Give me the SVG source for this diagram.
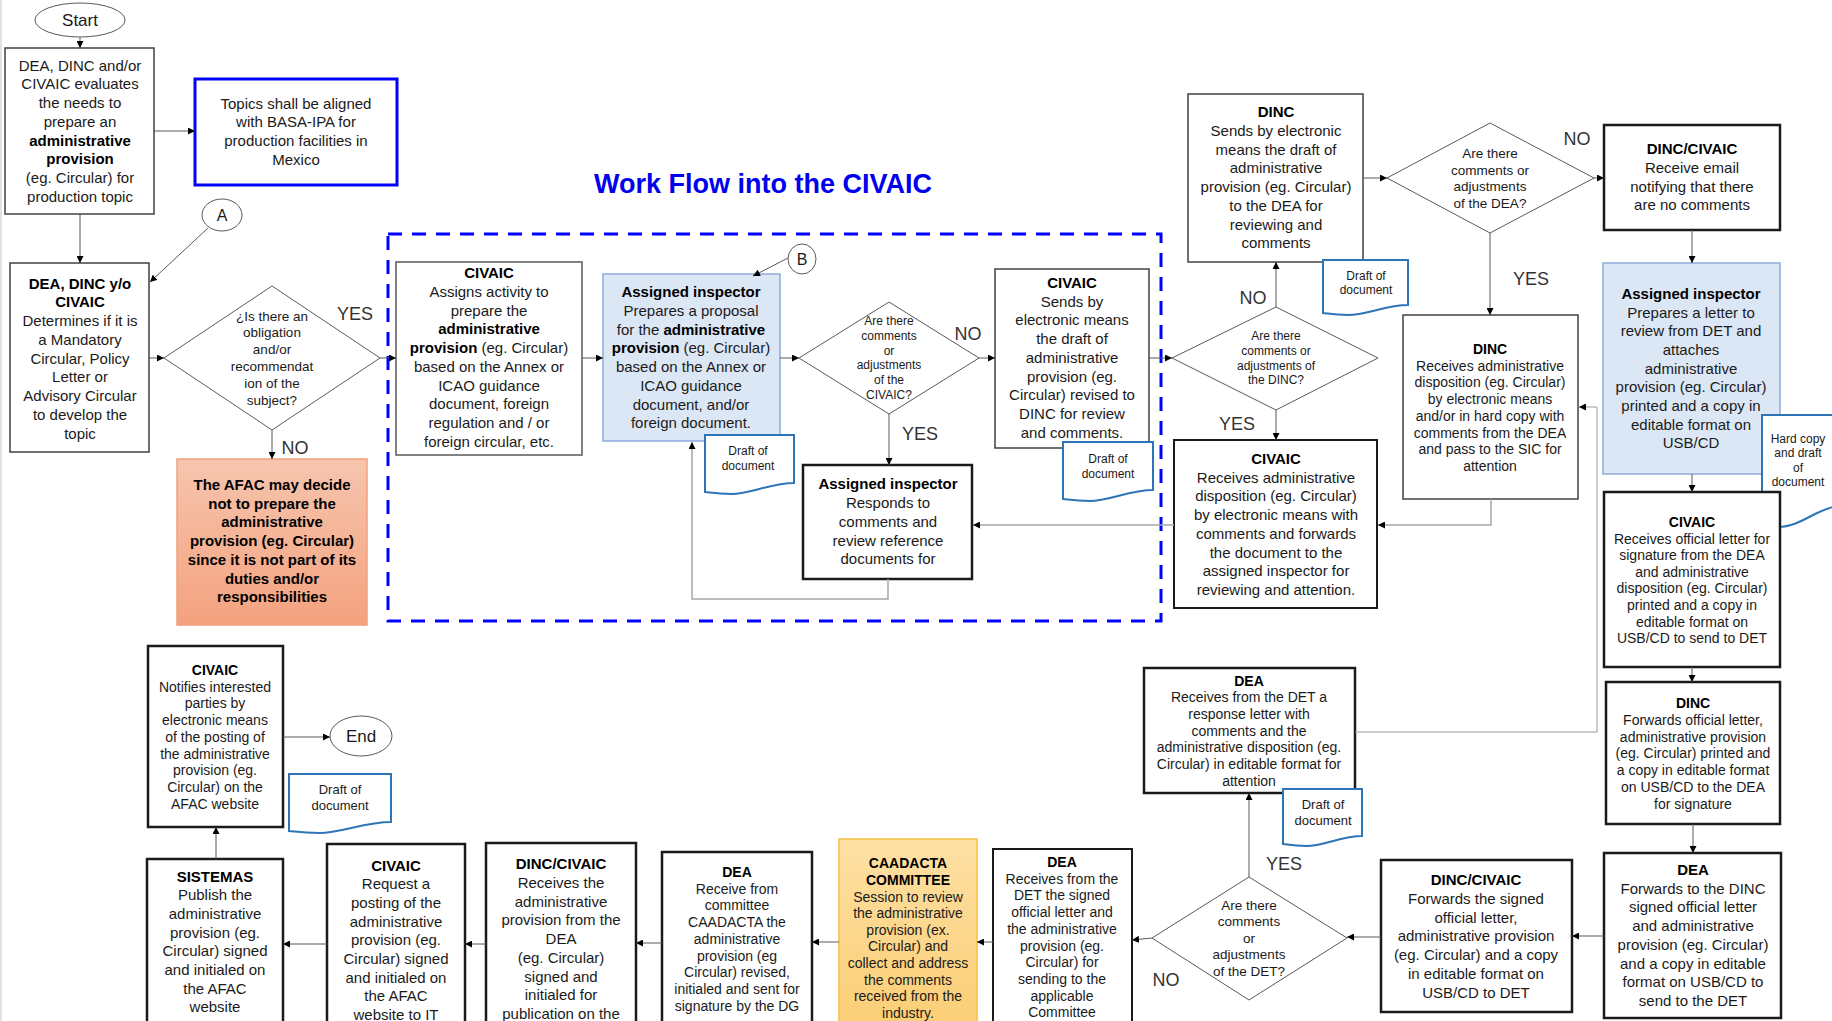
<svg xmlns="http://www.w3.org/2000/svg" width="1832" height="1021" viewBox="0 0 1832 1021">
<style>
text{font-family:"Liberation Sans",Arial,sans-serif;text-anchor:middle;fill:#1a1a1a}
.f15 text{font-size:15px}
.f14 text{font-size:14px}
.f135 text{font-size:13.5px}
.f12 text{font-size:12px}
.f13 text{font-size:13px}
.b{font-weight:bold;fill:#000}
.box{fill:#fff;stroke:#404040;stroke-width:1.5}
.boxk{fill:#fff;stroke:#1a1a1a;stroke-width:2.5}
.blue{fill:#dce7f5;stroke:#8eaadb;stroke-width:1.5}
.doc{fill:#fff;stroke:#2e75b6;stroke-width:2}
.dia{fill:#fff;stroke:#595959;stroke-width:1}
.ell{fill:#fff;stroke:#595959;stroke-width:1}
.c{fill:none;stroke:#595959;stroke-width:1;marker-end:url(#ah)}
.cg{fill:none;stroke:#a6a6a6;stroke-width:1.5;marker-end:url(#ah)}
.lbl{font-size:18px;fill:#333}
</style>
<defs>
<marker id="ah" viewBox="0 0 8 8" refX="8" refY="4" markerWidth="7" markerHeight="7" orient="auto" markerUnits="userSpaceOnUse"><path d="M0,0 L8,4 L0,8 z" fill="#000"/></marker>
<linearGradient id="gAfac" x1="0" y1="0" x2="0" y2="1"><stop offset="0" stop-color="#f6c5ae"/><stop offset="1" stop-color="#f4a27f"/></linearGradient>
<linearGradient id="gCaad" x1="0" y1="0" x2="0" y2="1"><stop offset="0" stop-color="#fde0a4"/><stop offset="1" stop-color="#fbcd72"/></linearGradient>
</defs>
<rect width="1832" height="1021" fill="#fff"/>
<line x1="1" y1="0" x2="1" y2="1021" stroke="#e3e3e3" stroke-width="2"/>

<text x="763" y="193" style="font-size:27px;font-weight:bold;fill:#0000ee">Work Flow into the CIVAIC</text>
<rect x="388" y="234" width="773" height="387" fill="none" stroke="#0000ff" stroke-width="3" stroke-dasharray="14 10"/>

<g id="n_start"><ellipse class="ell" cx="80" cy="20" rx="45" ry="17"/><text x="80" y="26" style="font-size:17px">Start</text></g>

<g id="n_eval" class="f15"><rect class="box" x="5" y="48" width="149" height="166"/>
<text x="80" y="70.7">DEA, DINC and/or</text>
<text x="80" y="89.4">CIVAIC evaluates</text>
<text x="80" y="108.1">the needs to</text>
<text x="80" y="126.8">prepare an</text>
<text x="80" y="145.5" class="b">administrative</text>
<text x="80" y="164.2" class="b">provision</text>
<text x="80" y="182.9">(eg. Circular) for</text>
<text x="80" y="201.6">production topic</text>
</g>

<g id="n_topics" class="f15"><rect x="195" y="79" width="202" height="106" fill="#fff" stroke="#0000ff" stroke-width="3"/>
<text x="296" y="108.5">Topics shall be aligned</text>
<text x="296" y="127.2">with BASA-IPA for</text>
<text x="296" y="145.9">production facilities in</text>
<text x="296" y="164.6">Mexico</text>
</g>

<g id="n_A"><ellipse class="ell" cx="222" cy="215" rx="20" ry="16"/><text x="222" y="221" style="font-size:16px">A</text></g>

<g id="n_determine" class="f15"><rect class="box" x="10" y="263" width="139" height="189"/>
<text x="80" y="288.5" class="b">DEA, DINC y/o</text>
<text x="80" y="307.3" class="b">CIVAIC</text>
<text x="80" y="326">Determines if it is</text>
<text x="80" y="344.8">a Mandatory</text>
<text x="80" y="363.5">Circular, Policy</text>
<text x="80" y="382.3">Letter or</text>
<text x="80" y="401">Advisory Circular</text>
<text x="80" y="419.8">to develop the</text>
<text x="80" y="438.5">topic</text>
</g>

<g id="n_d1" class="f135"><polygon class="dia" points="272,286 380,358 272,430 164,358"/>
<text x="272" y="320.5">¿Is there an</text>
<text x="272" y="337.3">obligation</text>
<text x="272" y="354.1">and/or</text>
<text x="272" y="370.9">recommendat</text>
<text x="272" y="387.7">ion of the</text>
<text x="272" y="404.5">subject?</text>
</g>

<g id="n_afac" class="f15"><rect x="177" y="459" width="190" height="166" fill="url(#gAfac)" stroke="#f2a07c" stroke-width="1.5"/>
<text x="272" y="490" class="b">The AFAC may decide</text>
<text x="272" y="508.7" class="b">not to prepare the</text>
<text x="272" y="527.4" class="b">administrative</text>
<text x="272" y="546.1" class="b">provision (eg. Circular)</text>
<text x="272" y="564.8" class="b">since it is not part of its</text>
<text x="272" y="583.5" class="b">duties and/or</text>
<text x="272" y="602.2" class="b">responsibilities</text>
</g>

<g id="n_assigns" class="f15"><rect class="box" x="396" y="262" width="186" height="193" style="stroke:#595959"/>
<text x="489" y="278.3" class="b">CIVAIC</text>
<text x="489" y="297">Assigns activity to</text>
<text x="489" y="315.7">prepare the</text>
<text x="489" y="334.4" class="b">administrative</text>
<text x="489" y="353.1"><tspan class="b">provision</tspan> (eg. Circular)</text>
<text x="489" y="371.8">based on the Annex or</text>
<text x="489" y="390.5">ICAO guidance</text>
<text x="489" y="409.2">document, foreign</text>
<text x="489" y="427.9">regulation and / or</text>
<text x="489" y="446.6">foreign circular, etc.</text>
</g>

<g id="n_insp1" class="f15"><rect class="blue" x="603" y="274" width="177" height="167"/>
<text x="691" y="297.3" class="b">Assigned inspector</text>
<text x="691" y="316">Prepares a proposal</text>
<text x="691" y="334.7">for the <tspan class="b">administrative</tspan></text>
<text x="691" y="353.4"><tspan class="b">provision</tspan> (eg. Circular)</text>
<text x="691" y="372.1">based on the Annex or</text>
<text x="691" y="390.8">ICAO guidance</text>
<text x="691" y="409.5">document, and/or</text>
<text x="691" y="428.2">foreign document.</text>
</g>

<g id="n_doc1" class="f12"><path class="doc" d="M705,435 H794 V483 C771.75,483 749.5,494 731.7,494 S709.45,492 705,492 Z"/>
<text x="748" y="455">Draft of</text><text x="748" y="470.3">document</text></g>

<g id="n_B"><ellipse class="ell" cx="802" cy="259" rx="14" ry="15"/><text x="802" y="265" style="font-size:16px">B</text></g>

<g id="n_d2" class="f12"><polygon class="dia" points="889,302 979,358 889,414 799,358"/>
<text x="889" y="325.2">Are there</text>
<text x="889" y="339.9">comments</text>
<text x="889" y="354.6">or</text>
<text x="889" y="369.3">adjustments</text>
<text x="889" y="384">of the</text>
<text x="889" y="398.7">CIVAIC?</text>
</g>

<g id="n_insp2" class="f15"><rect class="boxk" x="803" y="465" width="169" height="114"/>
<text x="888" y="489" class="b">Assigned inspector</text>
<text x="888" y="508">Responds to</text>
<text x="888" y="527">comments and</text>
<text x="888" y="545.7">review reference</text>
<text x="888" y="564.4">documents for</text>
</g>

<g id="n_sends" class="f15"><rect class="box" x="995" y="269" width="154" height="179"/>
<text x="1072" y="287.7" class="b">CIVAIC</text>
<text x="1072" y="306.5">Sends by</text>
<text x="1072" y="325.2">electronic means</text>
<text x="1072" y="344">the draft of</text>
<text x="1072" y="362.7">administrative</text>
<text x="1072" y="381.5">provision (eg.</text>
<text x="1072" y="400.2">Circular) revised to</text>
<text x="1072" y="419">DINC for review</text>
<text x="1072" y="437.7">and comments.</text>
</g>

<g id="n_doc2" class="f12"><path class="doc" d="M1063,442 H1153 V490 C1130.5,490 1108,501 1090,501 S1067.5,499 1063,499 Z"/>
<text x="1108" y="462.5">Draft of</text><text x="1108" y="477.5">document</text></g>

<g id="n_d3" class="f12"><polygon class="dia" points="1276,307 1378,358 1276,410 1172,358"/>
<text x="1276" y="340.2">Are there</text>
<text x="1276" y="354.9">comments or</text>
<text x="1276" y="369.6">adjustments of</text>
<text x="1276" y="384.3">the DINC?</text>
</g>

<g id="n_receives" class="f15"><rect class="boxk" x="1174" y="440" width="203" height="168" style="stroke-width:2"/>
<text x="1276" y="464" class="b">CIVAIC</text>
<text x="1276" y="482.7">Receives administrative</text>
<text x="1276" y="501.4">disposition (eg. Circular)</text>
<text x="1276" y="520.1">by electronic means with</text>
<text x="1276" y="538.8">comments and forwards</text>
<text x="1276" y="557.5">the document to the</text>
<text x="1276" y="576.2">assigned inspector for</text>
<text x="1276" y="594.9">reviewing and attention.</text>
</g>

<g id="n_dincsends" class="f15"><rect class="box" x="1188" y="94" width="175" height="168"/>
<text x="1276" y="117.3" class="b">DINC</text>
<text x="1276" y="136">Sends by electronic</text>
<text x="1276" y="154.7">means the draft of</text>
<text x="1276" y="173.4">administrative</text>
<text x="1276" y="192.1">provision (eg. Circular)</text>
<text x="1276" y="210.8">to the DEA for</text>
<text x="1276" y="229.5">reviewing and</text>
<text x="1276" y="248.2">comments</text>
</g>

<g id="n_doc3" class="f12"><path class="doc" d="M1323,260 H1408 V305 C1386.75,305 1365.5,315 1348.5,315 S1327.25,313 1323,313 Z"/>
<text x="1366" y="279.5">Draft of</text><text x="1366" y="294.2">document</text></g>

<g id="n_d4" class="f135"><polygon class="dia" points="1490,123 1594,178 1490,233 1387,178"/>
<text x="1490" y="158">Are there</text>
<text x="1490" y="174.7">comments or</text>
<text x="1490" y="191.4">adjustments</text>
<text x="1490" y="208.1">of the DEA?</text>
</g>

<g id="n_email" class="f15"><rect class="boxk" x="1604" y="125" width="176" height="105"/>
<text x="1692" y="154.3" class="b">DINC/CIVAIC</text>
<text x="1692" y="173">Receive email</text>
<text x="1692" y="191.7">notifying that there</text>
<text x="1692" y="210.4">are no comments</text>
</g>

<g id="n_dincrec" class="f14"><rect class="box" x="1403" y="315" width="175" height="184"/>
<text x="1490" y="354" class="b">DINC</text>
<text x="1490" y="370.7">Receives administrative</text>
<text x="1490" y="387.4">disposition (eg. Circular)</text>
<text x="1490" y="404.1">by electronic means</text>
<text x="1490" y="420.8">and/or in hard copy with</text>
<text x="1490" y="437.5">comments from the DEA</text>
<text x="1490" y="454.2">and pass to the SIC for</text>
<text x="1490" y="470.9">attention</text>
</g>

<g id="n_insp3" class="f15"><rect class="blue" x="1603" y="263" width="177" height="211"/>
<text x="1691" y="299" class="b">Assigned inspector</text>
<text x="1691" y="317.7">Prepares a letter to</text>
<text x="1691" y="336.3">review from DET and</text>
<text x="1691" y="355">attaches</text>
<text x="1691" y="373.6">administrative</text>
<text x="1691" y="392.3">provision (eg. Circular)</text>
<text x="1691" y="411">printed and a copy in</text>
<text x="1691" y="429.6">editable format on</text>
<text x="1691" y="448.3">USB/CD</text>
</g>

<g id="n_hardcopy" class="f12"><path class="doc" d="M1762,521 V415 H1890 V500 C1860,500 1835,504 1815,514 C1800,522 1790,527 1778,527 C1770,527 1765,524 1762,521 Z"/>
<text x="1798" y="442.5">Hard copy</text>
<text x="1798" y="457">and draft</text>
<text x="1798" y="471.7">of</text>
<text x="1798" y="486.3">document</text>
</g>

<g id="n_official" class="f14"><rect class="boxk" x="1604" y="492" width="176" height="175"/>
<text x="1692" y="527" class="b">CIVAIC</text>
<text x="1692" y="543.6">Receives official letter for</text>
<text x="1692" y="560.2">signature from the DEA</text>
<text x="1692" y="576.8">and administrative</text>
<text x="1692" y="593.4">disposition (eg. Circular)</text>
<text x="1692" y="610">printed and a copy in</text>
<text x="1692" y="626.6">editable format on</text>
<text x="1692" y="643.2">USB/CD to send to DET</text>
</g>

<g id="n_dincfwd" class="f14"><rect class="boxk" x="1606" y="682" width="174" height="142"/>
<text x="1693" y="708.3" class="b">DINC</text>
<text x="1693" y="725">Forwards official letter,</text>
<text x="1693" y="741.7">administrative provision</text>
<text x="1693" y="758.4">(eg. Circular) printed and</text>
<text x="1693" y="775.1">a copy in editable format</text>
<text x="1693" y="791.8">on USB/CD to the DEA</text>
<text x="1693" y="808.5">for signature</text>
</g>

<g id="n_deafwd" class="f15"><rect class="boxk" x="1604" y="853" width="177" height="165"/>
<text x="1693" y="875" class="b">DEA</text>
<text x="1693" y="893.7">Forwards to the DINC</text>
<text x="1693" y="912.4">signed official letter</text>
<text x="1693" y="931.1">and administrative</text>
<text x="1693" y="949.8">provision (eg. Circular)</text>
<text x="1693" y="968.5">and a copy in editable</text>
<text x="1693" y="987.2">format on USB/CD to</text>
<text x="1693" y="1005.9">send to the DET</text>
</g>

<g id="n_dcfwd" class="f15"><rect class="boxk" x="1381" y="860" width="191" height="152"/>
<text x="1476" y="885" class="b">DINC/CIVAIC</text>
<text x="1476" y="903.8">Forwards the signed</text>
<text x="1476" y="922.6">official letter,</text>
<text x="1476" y="941.4">administrative provision</text>
<text x="1476" y="960.2">(eg. Circular) and a copy</text>
<text x="1476" y="979">in editable format on</text>
<text x="1476" y="997.8">USB/CD to DET</text>
</g>

<g id="n_dearesp" class="f14"><rect class="boxk" x="1144" y="668" width="211" height="125"/>
<text x="1249" y="685.7" class="b">DEA</text>
<text x="1249" y="702.4">Receives from the DET a</text>
<text x="1249" y="719">response letter with</text>
<text x="1249" y="735.7">comments and the</text>
<text x="1249" y="752.4">administrative disposition (eg.</text>
<text x="1249" y="769">Circular) in editable format for</text>
<text x="1249" y="785.7">attention</text>
</g>

<g id="n_doc4" class="f13"><path class="doc" d="M1283,789 H1362 V836 C1342.25,836 1322.5,846 1306.7,846 S1287,844 1283,844 Z"/>
<text x="1323" y="808.5">Draft of</text><text x="1323" y="824.5">document</text></g>

<g id="n_d5" class="f135"><polygon class="dia" points="1249,877 1347,938 1249,1000 1152,938"/>
<text x="1249" y="909.7">Are there</text>
<text x="1249" y="926.2">comments</text>
<text x="1249" y="942.7">or</text>
<text x="1249" y="959.2">adjustments</text>
<text x="1249" y="975.7">of the DET?</text>
</g>

<g id="n_deasigned" class="f14"><rect class="boxk" x="993" y="849" width="139" height="190" style="stroke-width:2"/>
<text x="1062" y="867" class="b">DEA</text>
<text x="1062" y="883.7">Receives from the</text>
<text x="1062" y="900.4">DET the signed</text>
<text x="1062" y="917.1">official letter and</text>
<text x="1062" y="933.8">the administrative</text>
<text x="1062" y="950.5">provision (eg.</text>
<text x="1062" y="967.2">Circular) for</text>
<text x="1062" y="983.9">sending to the</text>
<text x="1062" y="1000.6">applicable</text>
<text x="1062" y="1017.3">Committee</text>
</g>

<g id="n_caadacta" class="f14"><rect x="839" y="839" width="138" height="200" fill="url(#gCaad)" stroke="#f5c242" stroke-width="1.5"/>
<text x="908" y="868.3" class="b">CAADACTA</text>
<text x="908" y="884.9" class="b">COMMITTEE</text>
<text x="908" y="901.5">Session to review</text>
<text x="908" y="918.1">the administrative</text>
<text x="908" y="934.7">provision (ex.</text>
<text x="908" y="951.3">Circular) and</text>
<text x="908" y="967.9">collect and address</text>
<text x="908" y="984.5">the comments</text>
<text x="908" y="1001.1">received from the</text>
<text x="908" y="1017.7">industry.</text>
</g>

<g id="n_deacomm" class="f14"><rect class="boxk" x="662" y="852" width="150" height="190"/>
<text x="737" y="876.7" class="b">DEA</text>
<text x="737" y="893.5">Receive from</text>
<text x="737" y="910.2">committee</text>
<text x="737" y="927">CAADACTA the</text>
<text x="737" y="943.7">administrative</text>
<text x="737" y="960.5">provision (eg</text>
<text x="737" y="977.2">Circular) revised,</text>
<text x="737" y="994">initialed and sent for</text>
<text x="737" y="1010.7">signature by the DG</text>
</g>

<g id="n_dcrec" class="f15"><rect class="boxk" x="486" y="843" width="150" height="200"/>
<text x="561" y="869.3" class="b">DINC/CIVAIC</text>
<text x="561" y="888">Receives the</text>
<text x="561" y="906.7">administrative</text>
<text x="561" y="925.4">provision from the</text>
<text x="561" y="944.1">DEA</text>
<text x="561" y="962.8">(eg. Circular)</text>
<text x="561" y="981.5">signed and</text>
<text x="561" y="1000.2">initialed for</text>
<text x="561" y="1018.9">publication on the</text>
</g>

<g id="n_request" class="f15"><rect class="boxk" x="327" y="844" width="138" height="200"/>
<text x="396" y="870.7" class="b">CIVAIC</text>
<text x="396" y="889.4">Request a</text>
<text x="396" y="908">posting of the</text>
<text x="396" y="926.7">administrative</text>
<text x="396" y="945.3">provision (eg.</text>
<text x="396" y="964">Circular) signed</text>
<text x="396" y="982.7">and initialed on</text>
<text x="396" y="1001.3">the AFAC</text>
<text x="396" y="1020">website to IT</text>
</g>

<g id="n_sistemas" class="f15"><rect class="boxk" x="147" y="859" width="136" height="190"/>
<text x="215" y="881.7" class="b">SISTEMAS</text>
<text x="215" y="900.4">Publish the</text>
<text x="215" y="919">administrative</text>
<text x="215" y="937.7">provision (eg.</text>
<text x="215" y="956.3">Circular) signed</text>
<text x="215" y="975">and initialed on</text>
<text x="215" y="993.7">the AFAC</text>
<text x="215" y="1012.3">website</text>
</g>

<g id="n_notifies" class="f14"><rect class="boxk" x="148" y="646" width="135" height="181"/>
<text x="215" y="675" class="b">CIVAIC</text>
<text x="215" y="691.7">Notifies interested</text>
<text x="215" y="708.4">parties by</text>
<text x="215" y="725.1">electronic means</text>
<text x="215" y="741.8">of the posting of</text>
<text x="215" y="758.5">the administrative</text>
<text x="215" y="775.2">provision (eg.</text>
<text x="215" y="791.9">Circular) on the</text>
<text x="215" y="808.6">AFAC website</text>
</g>

<g id="n_doc5" class="f13"><path class="doc" d="M289,774 H391 V822 C365.5,822 340,833 319.6,833 S294.1,831 289,831 Z"/>
<text x="340" y="793.8">Draft of</text><text x="340" y="809.5">document</text></g>

<g id="n_end"><ellipse class="ell" cx="361" cy="736" rx="31" ry="20"/><text x="361" y="742" style="font-size:17px">End</text></g>

<g id="connectors">
<path class="c" d="M80,37 V48"/>
<path class="c" d="M154,131 H195"/>
<path class="c" d="M80,214 V263"/>
<path class="c" d="M208,228 L150,282"/>
<path class="c" d="M149,358 H164"/>
<path class="c" d="M380,358 H396"/>
<path class="c" d="M272,430 V459"/>
<path class="c" d="M582,358 H603"/>
<path class="c" d="M788,258 L753,276"/>
<path class="c" d="M780,358 H799"/>
<path class="c" d="M979,358 H995"/>
<path class="c" d="M889,414 V465"/>
<path class="cg" d="M888,579 V599 H692 V442"/>
<path class="c" d="M1149,358 H1172"/>
<path class="c" d="M1276,307 V262"/>
<path class="c" d="M1276,410 V440"/>
<path class="cg" d="M1174,525 H973"/>
<path class="c" d="M1363,178 H1387"/>
<path class="c" d="M1594,178 H1604"/>
<path class="c" d="M1490,233 V315"/>
<path class="c" d="M1692,230 V263"/>
<path class="c" d="M1692,474 V492"/>
<path class="cg" d="M1491,499 V525 H1378"/>
<path class="c" d="M1355,732 H1597 V407 H1579" style="stroke:#999"/>
<path class="c" d="M1692,667 V682"/>
<path class="c" d="M1693,824 V853"/>
<path class="c" d="M1604,936 H1572"/>
<path class="c" d="M1381,937 H1347"/>
<path class="c" d="M1249,877 V793"/>
<path class="c" d="M1152,938 L1132,940"/>
<path class="c" d="M993,942 H977"/>
<path class="c" d="M839,942 H812"/>
<path class="c" d="M662,943 H636"/>
<path class="c" d="M486,944 H465"/>
<path class="c" d="M327,944 H283"/>
<path class="c" d="M216,859 V827"/>
<path class="c" d="M283,737 H330"/>
</g>

<g id="labels">
<text class="lbl" x="355" y="319.5">YES</text>
<text class="lbl" x="295" y="453.5">NO</text>
<text class="lbl" x="968" y="339.5">NO</text>
<text class="lbl" x="920" y="439.5">YES</text>
<text class="lbl" x="1253" y="303.5">NO</text>
<text class="lbl" x="1237" y="429.5">YES</text>
<text class="lbl" x="1577" y="144.5">NO</text>
<text class="lbl" x="1531" y="284.5">YES</text>
<text class="lbl" x="1284" y="869.5">YES</text>
<text class="lbl" x="1166" y="985.5">NO</text>
</g>
</svg>
